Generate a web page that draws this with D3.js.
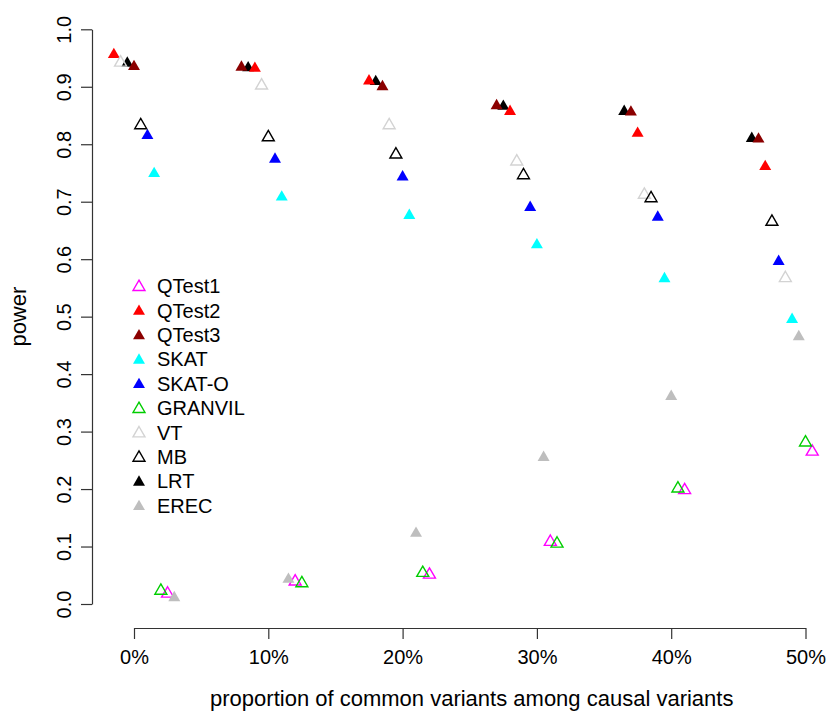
<!DOCTYPE html>
<html>
<head>
<meta charset="utf-8">
<script src="https://cdn.jsdelivr.net/npm/d3@7"></script>
<style>
  body { margin: 0; background: #fff; }
  text { font-family: "Liberation Sans", Arial, sans-serif; fill: #000; }
</style>
</head>
<body>
<div id="chart"></div>
<script>
const methods = ['QTest1', 'QTest2', 'QTest3', 'SKAT', 'SKAT-O', 'GRANVIL', 'VT', 'MB', 'LRT', 'EREC']
const xTicks = [0, 10, 20, 30, 40, 50]
const yTicks = [0, 0.1, 0.2, 0.3, 0.4, 0.5, 0.6, 0.7, 0.8, 0.9, 1.0]

// where each method sits inside a group (percent, the groups are spread out)
const xQTest1  = [2.5, 12, 22, 31, 41, 50.5]
const xQTest2  = [-1.5, 9, 17.5, 28, 37.5, 47]
const xQTest3  = [0, 8, 18.5, 27, 37, 46.5]
const xSKAT    = [1.5, 11, 20.5, 30, 39.5, 49]
const xSKATO   = [1, 10.5, 20, 29.5, 39, 48]
const xGRANVIL = [2, 12.5, 21.5, 31.5, 40.5, 50]
const xVT      = [-1, 9.5, 19, 28.5, 38, 48.5]
const xMB      = [0.5, 10, 19.5, 29, 38.5, 47.5]
const xLRT     = [-0.5, 8.5, 18, 27.5, 36.5, 46]
const xEREC    = [3, 11.5, 21, 30.5, 40, 49.5]

// power for 0%, 10%, ... 50%
const pQTest1  = [0.018, 0.039, 0.051, 0.108, 0.198, 0.265]
const pQTest2  = [0.956, 0.932, 0.910, 0.857, 0.819, 0.761]
const pQTest3  = [0.935, 0.934, 0.900, 0.867, 0.856, 0.809]
const pSKAT    = [0.749, 0.708, 0.676, 0.625, 0.566, 0.495]
const pSKATO   = [0.815, 0.774, 0.743, 0.690, 0.673, 0.596]
const pGRANVIL = [0.023, 0.036, 0.054, 0.105, 0.201, 0.281]
const pVT      = [0.942, 0.902, 0.833, 0.770, 0.712, 0.567]
const pMB      = [0.833, 0.812, 0.782, 0.746, 0.706, 0.665]
const pLRT     = [0.941, 0.933, 0.909, 0.866, 0.857, 0.810]
const pEREC    = [0.011, 0.043, 0.123, 0.255, 0.361, 0.465]

const xs = [xQTest1, xQTest2, xQTest3, xSKAT, xSKATO, xGRANVIL, xVT, xMB, xLRT, xEREC]
const ps = [pQTest1, pQTest2, pQTest3, pSKAT, pSKATO, pGRANVIL, pVT, pMB, pLRT, pEREC]

const colors = ['#ff00ff', '#ff0000', '#8b0000', '#00ffff', '#0000ff', '#00cd00', '#d3d3d3', '#000000', '#000000', '#bebebe']
const filled = [false, true, true, true, true, false, false, false, true, true]
const drawOrder = [8, 0, 1, 2, 3, 4, 5, 6, 7, 9]

const W = 834, H = 713

const svg = d3.select('#chart').append('svg')
  .attr('width', W)
  .attr('height', H)

svg.append('rect').attr('width', W).attr('height', H).attr('fill', '#fff')

const x = d3.scaleLinear().domain([0, 50]).range([134, 805.5])
const y = d3.scaleLinear().domain([0, 1]).range([604, 29.3])

const tri = d3.symbol().type(d3.symbolTriangle).size(62)

// x axis
const xAxis = svg.append('g')
  .attr('transform', 'translate(0, 628)')
  .call(d3.axisBottom(x)
    .tickValues(xTicks)
    .tickFormat(d => d + '%')
    .tickSize(11)
    .tickSizeOuter(0)
    .tickPadding(11))
xAxis.selectAll('path, line').attr('stroke', '#333').attr('stroke-width', 1.2)
xAxis.selectAll('text').attr('font-size', 20).attr('font-family', null)

// y axis
const yAxis = svg.append('g')
  .attr('transform', 'translate(92, 0)')
  .call(d3.axisLeft(y)
    .tickValues(yTicks)
    .tickFormat(d3.format('.1f'))
    .tickSize(11)
    .tickSizeOuter(0))
yAxis.selectAll('path, line').attr('stroke', '#333').attr('stroke-width', 1.2)
yAxis.selectAll('text')
  .attr('font-size', 20)
  .attr('font-family', null)
  .attr('x', null)
  .attr('dy', null)
  .attr('text-anchor', 'middle')
  .attr('transform', 'translate(-21, 0) rotate(-90)')

svg.selectAll('.domain').attr('fill', 'none')

// axis titles
svg.append('text')
  .attr('x', x(25) + 2)
  .attr('y', 706)
  .attr('text-anchor', 'middle')
  .attr('font-size', 22)
  .text('proportion of common variants among causal variants')

svg.append('text')
  .attr('transform', `translate(26, ${y(0.5)}) rotate(-90)`)
  .attr('text-anchor', 'middle')
  .attr('font-size', 22)
  .text('power')

// points
drawOrder.forEach(m => {
  svg.append('g')
    .selectAll('path')
    .data(ps[m])
    .enter()
    .append('path')
    .attr('d', tri)
    .attr('transform', (d, i) => `translate(${x(xs[m][i])}, ${y(d)})`)
    .attr('fill', filled[m] ? colors[m] : 'none')
    .attr('stroke', filled[m] ? 'none' : colors[m])
    .attr('stroke-width', 1.4)
})

// legend
const legend = svg.append('g')
methods.forEach((name, i) => {
  const ly = 286 + i * 24.4
  legend.append('path')
    .attr('d', tri)
    .attr('transform', `translate(139, ${ly + 1})`)
    .attr('fill', filled[i] ? colors[i] : 'none')
    .attr('stroke', filled[i] ? 'none' : colors[i])
    .attr('stroke-width', 1.4)
  legend.append('text')
    .attr('x', 157)
    .attr('y', ly)
    .attr('dy', '0.36em')
    .attr('font-size', 20)
    .text(name)
})
</script>
</body>
</html>
